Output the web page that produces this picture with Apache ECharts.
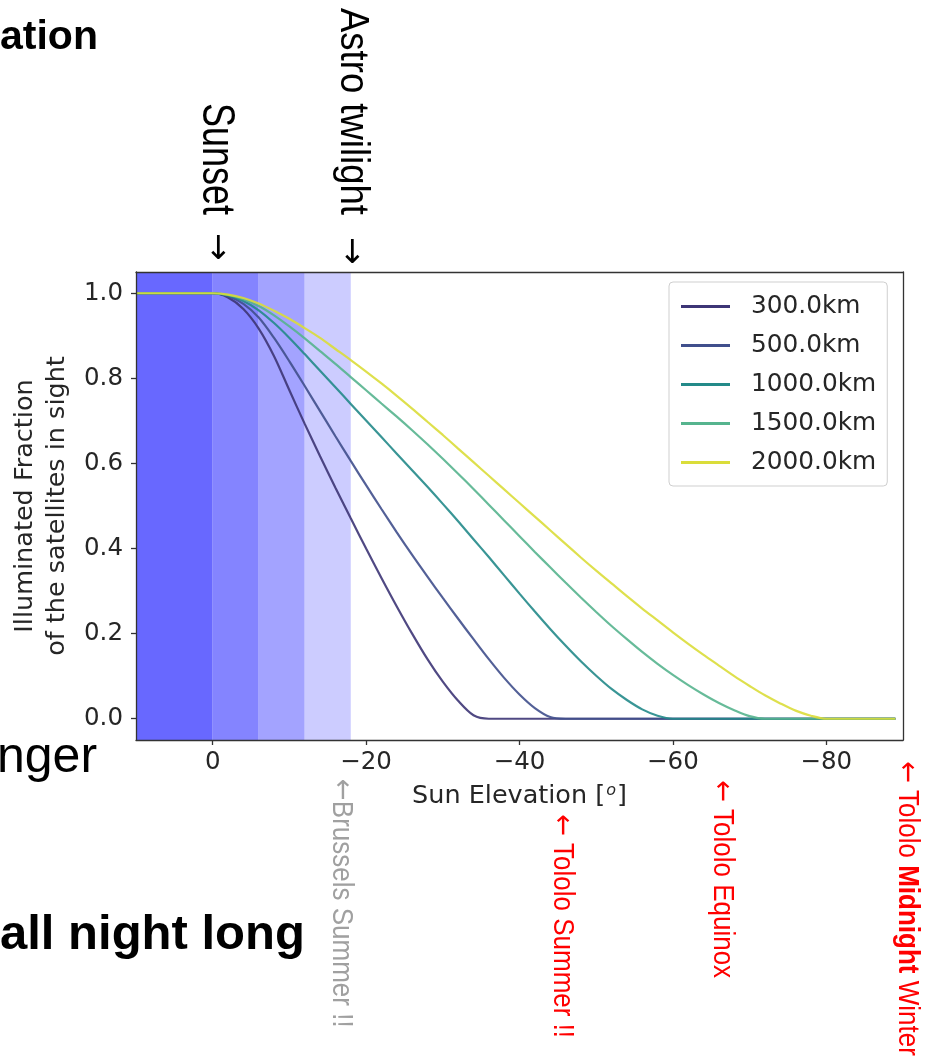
<!DOCTYPE html>
<html>
<head>
<meta charset="utf-8">
<script src="https://cdn.jsdelivr.net/npm/echarts@6/dist/echarts.min.js"></script>
<style>
html,body{margin:0;padding:0;background:#fff;}
#chart{width:930px;height:1064px;}
</style>
</head>
<body>
<div id="chart"></div>
<script>
// Sun elevation grid (degrees)
const elevation = [10,8,6,4,2,0,-2,-4,-6,-8,-10,-12,-14,-16,-18,-20,-22,-24,-26,-28,-30,-32,-34,-36,-38,-40,-42,-44,-46,-48,-50,-52,-54,-56,-58,-60,-62,-64,-66,-68,-70,-72,-74,-76,-78,-80,-82,-84,-86,-88,-89];

// Illuminated fraction for each altitude
const frac300 = [1,1,1,1,1,1,
  0.99,0.963,0.917,0.852,0.772,0.693,0.617,0.543,0.471,0.4,0.331,0.264,0.2,0.14,0.087,0.042,0.008,0,
  0,0,0,0,0,0,0,0,0,0, 0,0,0,0,0,0,0,0,0,0, 0,0,0,0,0,0,0];
const frac500 = [1,1,1,1,1,1,
  0.993,0.975,0.943,0.895,0.84,0.782,0.723,0.664,0.606,0.549,0.493,0.438,0.385,0.334,0.284,0.235,0.187,0.14,0.096,0.057,0.025,0.004,0,
  0,0,0,0,0,0,0,0,0,0, 0,0,0,0,0,0,0,0,0,0, 0,0];
const frac1000 = [1,1,1,1,1,1,
  0.995,0.982,0.96,0.93,0.895,0.857,0.818,0.779,0.74,0.701,0.662,0.623,0.584,0.545,0.505,0.464,0.422,0.38,0.337,0.294,0.252,0.211,0.172,0.135,0.101,0.07,0.044,0.022,0.007,0,
  0,0,0,0,0,0,0,0,0,0, 0,0,0,0,0];
const frac1500 = [1,1,1,1,1,1,
  0.996,0.986,0.97,0.948,0.922,0.894,0.864,0.834,0.803,0.772,0.741,0.71,0.678,0.645,0.611,0.576,0.54,0.503,0.466,0.429,0.392,0.356,0.32,0.285,0.251,0.218,0.187,0.157,0.129,0.103,0.079,0.057,0.037,0.02,0.006,0,
  0,0,0,0,0,0,0,0,0];
const frac2000 = [1,1,1,1,1,1,
  0.997,0.989,0.976,0.959,0.94,0.918,0.895,0.869,0.843,0.816,0.788,0.759,0.729,0.698,0.667,0.635,0.603,0.571,0.539,0.507,0.475,0.443,0.411,0.379,0.348,0.318,0.288,0.259,0.231,0.203,0.176,0.15,0.125,0.1,0.077,0.055,0.036,0.019,0.007,0,
  0,0,0,0,0];

const seriesNames = ['300.0km','500.0km','1000.0km','1500.0km','2000.0km'];
const seriesValues = [frac300, frac500, frac1000, frac1500, frac2000];
const seriesColors = ['#3d3576','#404f8c','#238a89','#56b48e','#dadd3a'];

// twilight bands (sun elevation ranges)
const bandEdges = [[10,0],[0,-6],[-6,-12],[-12,-18]];
const bandColors = ['#6868ff','#8484ff','#a3a3ff','#ccccff'];

const xTicks = [0,-20,-40,-60,-80];
const yTicks = [0,0.2,0.4,0.6,0.8,1.0];

const chart = echarts.init(document.getElementById('chart'));
const tickFont = 'DejaVu Sans';

const series = [{
  type:'line', name:'bands', data:[], z:1, silent:true,
  markArea:{ silent:true,
    data: bandEdges.map((b,i)=>[{xAxis:b[0], itemStyle:{color:bandColors[i], opacity:1}},{xAxis:b[1]}])
  }
}];
seriesNames.forEach((n,i)=>{
  series.push({
    type:'line', name:n, z:3,
    data: elevation.map((e,j)=>[e, seriesValues[i][j]]),
    showSymbol:false, symbol:'none', smooth:0.3,
    color: seriesColors[i],
    lineStyle:{width:2.2, color:seriesColors[i], opacity:0.9}
  });
});

function rotText(x, y, text, size, color, sy, extraRich){
  const rich = Object.assign({
    a:{fontFamily:'DejaVu Sans', fontSize:size, fill:color}
  }, extraRich||{});
  return {type:'text', x:x, y:y, rotation:-Math.PI/2, scaleY:sy,
    style:{text:text, fontFamily:'Liberation Sans', fontSize:size, fill:color,
      align:'left', verticalAlign:'middle', rich:rich}};
}

const option = {
  animation:false,
  backgroundColor:'#fff',
  grid:{left:136, top:272, right:27, bottom:324, show:false},
  legend:{
    data: seriesNames, orient:'vertical', left:669, top:282,
    padding:[12,11,11,12], itemGap:14, itemWidth:49, itemHeight:3,
    icon:'rect', backgroundColor:'#fff', borderColor:'#cfcfcf', borderWidth:1, borderRadius:4,
    textStyle:{fontFamily:tickFont, fontSize:24.8, color:'#262626', lineHeight:25, padding:[0,0,0,16]}
  },
  xAxis:[{
    type:'value', min:-90, max:10, inverse:true, z:10,
    name:'{n|Sun Elevation [}{s|o}{n|]}', nameLocation:'middle', nameGap:43,
    nameTextStyle:{rich:{
      n:{fontFamily:tickFont, fontSize:25.5, color:'#262626'},
      s:{fontFamily:tickFont, fontSize:16, fontStyle:'italic', color:'#262626', verticalAlign:'top', padding:[0,1,11,1]}
    }},
    splitLine:{show:false},
    axisLine:{show:true, onZero:false, lineStyle:{color:'#333', width:1.3}},
    axisTick:{show:true, length:5, lineStyle:{color:'#333', width:1.3}, customValues:xTicks},
    axisLabel:{customValues:xTicks, margin:10, fontFamily:tickFont, fontSize:24.5, color:'#262626',
      formatter:v=> v<0 ? '\u2212'+Math.abs(v) : String(v)}
  },{
    type:'value', min:-90, max:10, inverse:true, position:'top', z:10,
    splitLine:{show:false}, axisTick:{show:false}, axisLabel:{show:false},
    axisLine:{show:true, onZero:false, lineStyle:{color:'#333', width:1.3}}
  }],
  yAxis:[{
    type:'value', min:-0.05, max:1.05, z:10,
    name:'Illuminated Fraction\nof the satellites in sight', nameLocation:'middle', nameGap:57,
    nameTextStyle:{fontFamily:tickFont, fontSize:25.5, color:'#262626', lineHeight:32},
    splitLine:{show:false},
    axisLine:{show:true, onZero:false, lineStyle:{color:'#333', width:1.3}},
    axisTick:{show:true, length:5, lineStyle:{color:'#333', width:1.3}, customValues:yTicks},
    axisLabel:{customValues:yTicks, margin:13, fontFamily:tickFont, fontSize:24.5, color:'#262626',
      formatter:v=>v.toFixed(1)}
  },{
    type:'value', min:-0.05, max:1.05, position:'right', z:10,
    splitLine:{show:false}, axisTick:{show:false}, axisLabel:{show:false},
    axisLine:{show:true, onZero:false, lineStyle:{color:'#333', width:1.3}}
  }],
  series: series,
  graphic:[
    {type:'text', x:0, y:38, style:{text:'ation', fontFamily:'Liberation Sans', fontWeight:'bold', fontSize:41, fill:'#000', align:'left', verticalAlign:'middle'}},
    {type:'text', x:-3, y:758, style:{text:'nger', fontFamily:'Liberation Sans', fontSize:50, fill:'#000', align:'left', verticalAlign:'middle'}},
    {type:'text', x:0, y:935, style:{text:'all night long', fontFamily:'Liberation Sans', fontWeight:'bold', fontSize:49, fill:'#000', align:'left', verticalAlign:'middle'}},
    rotText(216, 103, 'Sunset', 36, '#000', 1.3),
    rotText(217, 233, '\u2192', 33, '#000', 1.0),
    rotText(352, 8, 'Astro twilight', 36.5, '#000', 1.1),
    rotText(351, 237, '\u2192', 33, '#000', 1.0),
    rotText(341, 779, '{a|\u2190}Brussels Summer !!', 26, '#a0a0a0', 1.1),
    rotText(562, 814, '{a|\u2190} Tololo Summer !!', 26, '#ff0000', 1.12),
    rotText(722, 780, '{a|\u2190} Tololo Equinox', 26, '#ff0000', 1.12),
    rotText(907, 761, '{a|\u2190} Tololo {b|Midnight} Winter', 26, '#ff0000', 1.12,
      {b:{fontFamily:'Liberation Sans', fontWeight:'bold', fontSize:26, fill:'#ff0000'}})
  ]
};
// arrows use DejaVu Sans (separate, unscaled elements)
option.graphic[4].style.fontFamily = 'DejaVu Sans';
option.graphic[6].style.fontFamily = 'DejaVu Sans';
chart.setOption(option);
</script>
</body>
</html>
